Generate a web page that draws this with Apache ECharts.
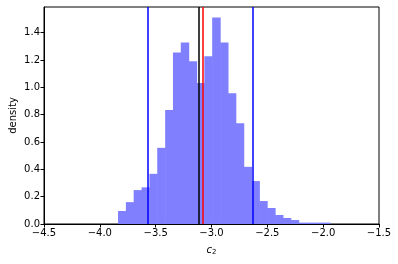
<!DOCTYPE html>
<html><head><meta charset="utf-8">
<script src="https://cdn.jsdelivr.net/npm/echarts@6/dist/echarts.min.js"></script>
<style>html,body{margin:0;padding:0;background:#fff}#c{width:398px;height:264px}</style>
</head><body><div id="c"></div>
<script>
var binEdges = [-3.837,-3.767,-3.697,-3.626,-3.556,-3.486,-3.415,-3.345,-3.275,-3.205,-3.134,-3.064,-2.994,-2.923,-2.853,-2.783,-2.712,-2.642,-2.572,-2.502,-2.431,-2.361,-2.291,-2.220,-2.150,-2.080,-2.009,-1.939];
var density = [0.095,0.16,0.248,0.268,0.367,0.557,0.834,1.255,1.328,1.19,1.031,1.226,1.511,1.328,0.956,0.737,0.418,0.314,0.168,0.117,0.066,0.044,0.029,0.01,0.01,0.01,0.01];
var blueLines = [-3.571, -2.631];
var blackLine = -3.106;
var redLine = -3.079;
var xTicks = [-4.5,-4.0,-3.5,-3.0,-2.5,-2.0,-1.5];
var yTicks = [0.0,0.2,0.4,0.6,0.8,1.0,1.2,1.4];

var bars = density.map(function(h,i){return [binEdges[i], binEdges[i+1], h];});
var font = 'DejaVu Sans';
function fmt(v){ return (v<0?'\u2212':'') + Math.abs(v).toFixed(1); }
var chart = echarts.init(document.getElementById('c'), null, {renderer:'canvas'});
chart.setOption({
  animation:false,
  grid:{left:44,right:19,top:7,bottom:40,containLabel:false,outerBoundsMode:'none',show:true,borderColor:'#000',borderWidth:1,backgroundColor:'transparent'},
  xAxis:{type:'value',min:xTicks[0],max:xTicks[xTicks.length-1],interval:0.5,
    splitLine:{show:false},
    axisLine:{show:true,lineStyle:{color:'#000',width:1}},
    axisTick:{show:true,length:3.5,lineStyle:{color:'#000'}},
    axisLabel:{color:'#000',fontFamily:font,fontSize:10,margin:4,formatter:fmt},
    name:'{i|c}{s|2}',nameLocation:'middle',nameGap:21,
    nameTextStyle:{rich:{i:{fontFamily:font,fontStyle:'italic',fontSize:10,color:'#000'},s:{fontFamily:font,fontSize:7,color:'#000',verticalAlign:'bottom',padding:[4,0,0,0]}}}
  },
  yAxis:{type:'value',min:0,max:1.587,interval:0.2,
    splitLine:{show:false},
    axisLine:{show:true,lineStyle:{color:'#000',width:1}},
    axisTick:{show:true,length:3.5,lineStyle:{color:'#000'}},
    axisLabel:{color:'#000',fontFamily:font,fontSize:10,margin:4,showMaxLabel:false,formatter:function(v){return v.toFixed(1);}},
    name:'density',nameLocation:'middle',nameGap:26,nameMoveOverlap:false,
    nameTextStyle:{fontFamily:font,fontSize:10,color:'#000'}
  },
  series:[
    {type:'custom',data:bars,clip:true,
      renderItem:function(params,api){
        var p0=api.coord([api.value(0),api.value(2)]);
        var p1=api.coord([api.value(1),0]);
        return {type:'rect',shape:{x:p0[0],y:p0[1],width:p1[0]-p0[0]+0.6,height:p1[1]-p0[1]},style:{fill:'#8080ff'}};
      },
      encode:{x:[0,1],y:2}
    },
    {type:'line',data:[],markLine:{silent:true,symbol:['none','none'],label:{show:false},animation:false,
      data:[
        {xAxis:blueLines[0],lineStyle:{color:'#0000ff',width:1.5,type:'solid'}},
        {xAxis:blueLines[1],lineStyle:{color:'#0000ff',width:1.5,type:'solid'}},
        {xAxis:blackLine,lineStyle:{color:'#000000',width:1.5,type:'solid'}},
        {xAxis:redLine,lineStyle:{color:'#ff0000',width:1.5,type:'solid'}}
      ]}}
  ]
});
</script></body></html>
